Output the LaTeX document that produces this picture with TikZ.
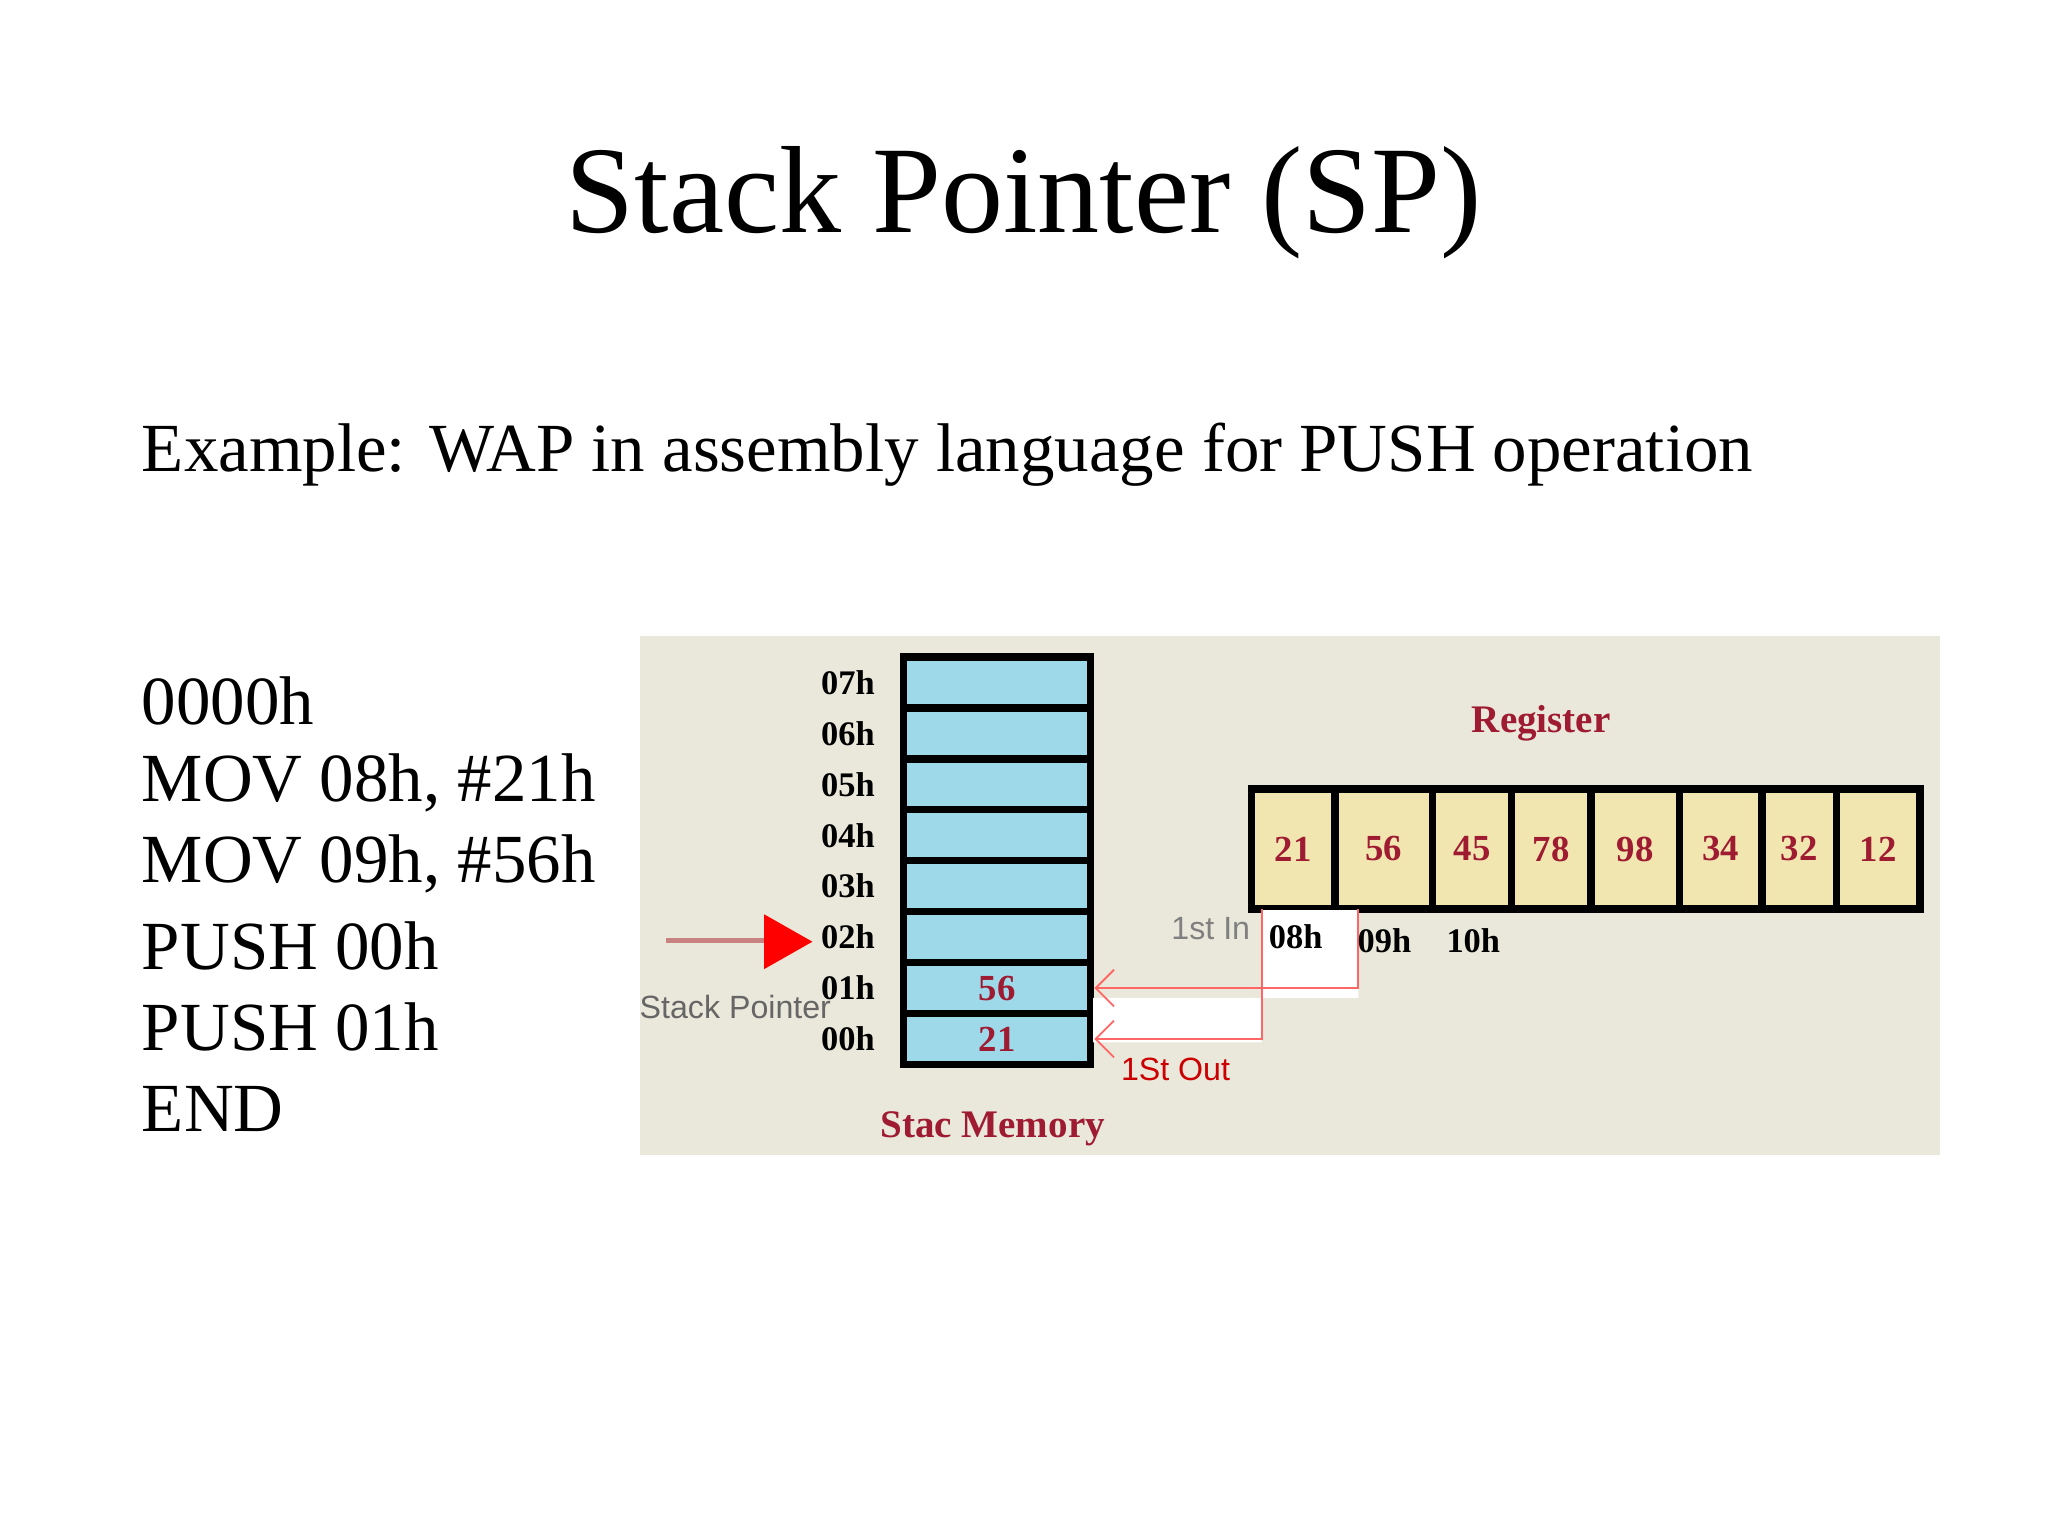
\documentclass[tikz,border=0pt]{standalone}
\usepackage{fontspec}
\setmainfont{Liberation Serif}
\setsansfont{Liberation Sans}
\usetikzlibrary{arrows.meta}
\definecolor{panelbg}{HTML}{EAE8DA}
\definecolor{cellblue}{HTML}{9ED9E9}
\definecolor{regyellow}{HTML}{F2E6B0}
\definecolor{darkred}{HTML}{9E1B32}
\tikzset{
  memcell/.style={draw=black, line width=1.6pt, fill=cellblue, minimum width=1.43cm, minimum height=0.39cm, inner sep=0pt},
  regcell/.style={draw=black, line width=1.6pt, fill=regyellow, minimum height=0.92cm, inner sep=0pt},
  addr/.style={font=\bfseries\fontsize{7.5}{8}\selectfont},
  val/.style={font=\bfseries\fontsize{8}{9}\selectfont, text=darkred},
  note/.style={font=\sffamily\fontsize{7}{8}\selectfont},
  codeline/.style={anchor=west, inner sep=0pt, font=\fontsize{15}{18}\selectfont}
}
\begin{document}
\begin{tikzpicture}[x=0.01cm, y=-0.01cm]
    \useasboundingbox (0,0) rectangle (1568,1176);
    \fill[white] (0,0) rectangle (1568,1176);

    % Title and text
    \node (title) at (784,155) {\fontsize{27}{32}\selectfont Stack Pointer (SP)};
    \node[codeline] (task) at (108,348) {Example: WAP in assembly language for PUSH operation};
    \foreach \txt [count=\i from 0] in {0000h, {MOV 08h, \#21h}, {MOV 09h, \#56h}, PUSH 00h, PUSH 01h, END}
        \node[codeline] (code\i) at (108,537+62.4*\i) {\txt};

    % Panel
    \fill[panelbg] (490,487) rectangle (1485,884);

    % Stack memory
    \foreach \a [count=\i from 0] in {07h,06h,05h,04h,03h,02h,01h,00h} {
        \node[memcell] (m\a) at (763.5,522.5+39*\i) {};
        \node[addr, left=2pt] at (m\a.west) {\a};
    }
    \node[val] at (m01h) {56};
    \node[val] at (m00h) {21};
    \node[val, font=\bfseries\fontsize{8.5}{10}\selectfont] (stacname) at (760,864) {Stac Memory};

    % Register
    \node[val, font=\bfseries\fontsize{8.5}{10}\selectfont] (regname) at (1180,554) {Register};
    \foreach \l/\r [count=\i] in {958/1022,1022/1097,1097/1157,1157/1218,1218/1286,1286/1349,1349/1406,1406/1470}
        \node[regcell, minimum width=(\r-\l)*0.01cm] (r\i) at ({(\l+\r)/2},650) {};
    \foreach \v [count=\i] in {21,56,45,78,98,34,32,12}
        \node[val] at (r\i) {\v};

    % Paths out of the register
    \coordinate (o1) at (1040,696);
    \coordinate (o2) at (966,696);
    \fill[white] (837,764) -- (966,764) -- (966,697) -- (1040,697) -- (1040,764) -- (966,764) -- (966,798) -- (837,798) -- cycle;
    \fill[white] (966,697) rectangle (1040,764);
    \draw[red!60, -{Straight Barb[length=4pt]}] (o1) |- (m01h.east);
    \draw[red!60, -{Straight Barb[length=4pt]}] (o2) |- (m00h.east);

    \node[addr] (a08) at (992,717) {08h};
    \node[addr] (a09) at (1060,720) {09h};
    \node[addr] (a10) at (1128,720) {10h};
    \node[note, text=gray] (firstin) at (927,711) {1st In};
    \node[note, text=red!80!black] (firstout) at (900,819) {1St Out};

    % Stack pointer
    \coordinate (sptail) at (510,720);
    \coordinate (sphead) at (585,720);
    \draw[red!40!gray!70, line width=1.2pt] (sptail) -- (sphead);
    \fill[red] (585,700) -- (622,721) -- (585,742) -- cycle;
    \node[note, text=gray!80!black] (spname) at (563,771) {Stack Pointer};
\end{tikzpicture}
\end{document}
